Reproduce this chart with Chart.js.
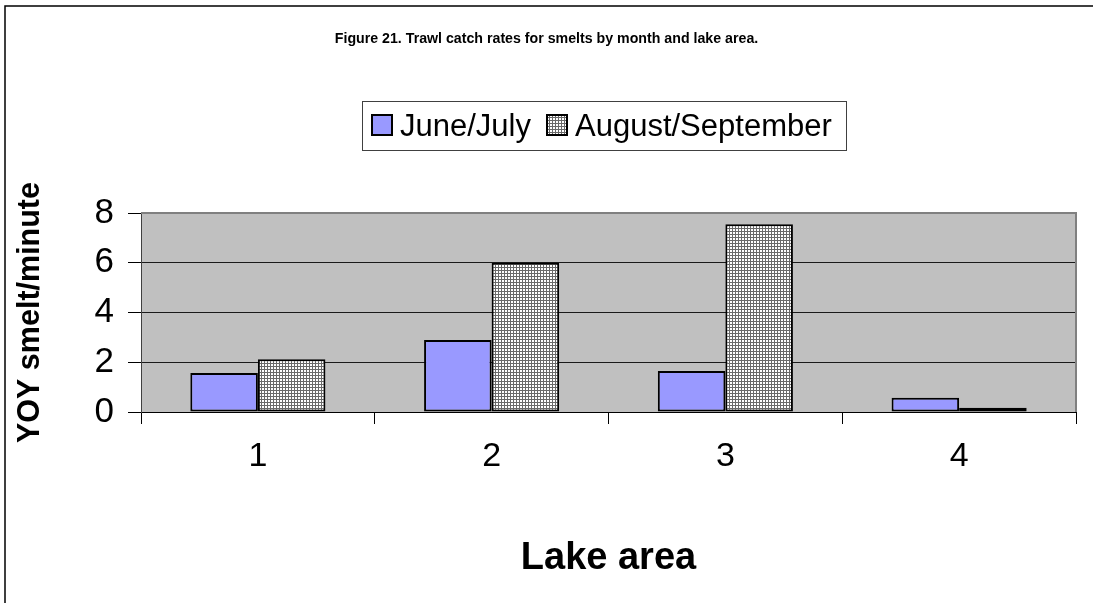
<!DOCTYPE html>
<html><head><meta charset="utf-8">
<script src="https://cdn.jsdelivr.net/npm/chart.js@4.4.1/dist/chart.umd.min.js"></script>
<style>html,body{margin:0;padding:0;background:#fff}#wrap{width:1093px;height:603px;position:relative}</style>
</head><body><div id="wrap"><canvas id="c" width="1093" height="603"></canvas></div>
<script>
const categories = ['1', '2', '3', '4'];
const juneJuly = [1.57, 2.9, 1.65, 0.57];
const augSep = [2.12, 6.0, 7.55, 0.17];
const seriesNames = ['June/July', 'August/September'];
const yTicks = [0, 2, 4, 6, 8];
const titleText = 'Figure 21. Trawl catch rates for smelts by month and lake area.';
const xTitle = 'Lake area';
const yTitle = 'YOY smelt/minute';

const FONT = "'Liberation Sans', Arial, sans-serif";
const canvas = document.getElementById('c');
const ctx0 = canvas.getContext('2d');

function makePattern() {
  const p = document.createElement('canvas');
  p.width = 3; p.height = 3;
  const g = p.getContext('2d');
  g.fillStyle = '#ffffff'; g.fillRect(0, 0, 3, 3);
  g.fillStyle = '#6a6a6a';
  g.fillRect(0, 0, 3, 1);
  g.fillRect(0, 0, 1, 3);
  return ctx0.createPattern(p, 'repeat');
}
const gridPattern = makePattern();
const blue = '#9999FF';

const framePlugin = {
  id: 'frame',
  beforeDraw(chart) {
    const c = chart.ctx, a = chart.chartArea;
    c.save();
    c.fillStyle = '#fff';
    c.fillRect(0, 0, chart.width, chart.height);
    c.fillStyle = '#C0C0C0';
    c.fillRect(a.left, a.top, a.right - a.left, a.bottom - a.top);
    c.strokeStyle = '#000';
    c.lineWidth = 1.5;
    c.strokeRect(5, 6, chart.width + 20, chart.height + 20);
    c.restore();
  },
  afterDatasetsDraw(chart) {
    const c = chart.ctx, a = chart.chartArea;
    c.save();
    c.strokeStyle = '#808080';
    c.lineWidth = 2;
    c.beginPath();
    c.moveTo(a.left, a.top);
    c.lineTo(a.right, a.top);
    c.lineTo(a.right, a.bottom);
    c.stroke();
    c.restore();
  },
  afterDraw(chart) {
    const c = chart.ctx;
    const bx = 362, by = 101, bw = 484, bh = 49;
    c.save();
    c.fillStyle = '#fff';
    c.fillRect(bx, by, bw, bh);
    c.strokeStyle = '#404040';
    c.lineWidth = 1;
    c.strokeRect(bx + 0.5, by + 0.5, bw, bh);
    const items = chart.data.datasets;
    const sx = [372, 547];
    c.font = '31px ' + FONT;
    c.textBaseline = 'middle';
    c.textAlign = 'left';
    items.forEach((ds, i) => {
      c.fillStyle = ds.backgroundColor;
      c.fillRect(sx[i], 115, 20, 20);
      c.strokeStyle = '#000';
      c.lineWidth = 2;
      c.strokeRect(sx[i], 115, 20, 20);
      c.fillStyle = '#000';
      c.fillText(ds.label, sx[i] + 28, 127);
    });
    c.restore();
  }
};

new Chart(canvas, {
  type: 'bar',
  data: {
    labels: categories,
    datasets: [
      { label: seriesNames[0], data: juneJuly, backgroundColor: blue, borderColor: '#000', borderWidth: 2, borderSkipped: false },
      { label: seriesNames[1], data: augSep, backgroundColor: gridPattern, borderColor: '#000', borderWidth: 2, borderSkipped: false }
    ]
  },
  options: {
    responsive: false,
    animation: false,
    devicePixelRatio: 1,
    layout: { padding: { left: 0, right: 0, top: 0, bottom: 0 } },
    datasets: { bar: { categoryPercentage: 0.578, barPercentage: 1.0 } },
    plugins: {
      legend: { display: false },
      tooltip: { enabled: false },
      title: {
        display: true,
        text: titleText,
        color: '#000',
        font: { family: FONT, size: 14.2, weight: 'bold' },
        padding: { top: 31, bottom: 165 }
      }
    },
    scales: {
      x: {
        grid: { display: true, offset: true, drawOnChartArea: false, drawTicks: true, tickLength: 12, color: '#000', tickColor: '#000' },
        border: { display: true, color: '#000', width: 1 },
        ticks: { color: '#000', font: { family: FONT, size: 34 }, padding: 12 },
        title: { display: true, text: xTitle, color: '#000', font: { family: FONT, size: 38, weight: 'bold' }, padding: { top: 0, bottom: 22 } },
        afterFit(s) { s.height = 191; }
      },
      y: {
        min: 0, max: 8,
        afterBuildTicks(s) { s.ticks = yTicks.map(v => ({ value: v })); },
        grid: {
          color: (c) => (c.tick && c.tick.value === 8) ? '#808080' : '#1a1a1a',
          tickColor: '#000', tickLength: 13, drawTicks: true
        },
        border: { display: true, color: '#404040', width: 1 },
        ticks: { color: '#000', font: { family: FONT, size: 35 }, padding: 14 },
        title: { display: true, text: yTitle, color: '#000', font: { family: FONT, size: 30.5, weight: 'bold' }, padding: { top: 12, bottom: 0 } },
        afterFit(s) { s.width = 141; }
      },
      yRight: {
        position: 'right',
        min: 0, max: 8,
        grid: { display: false },
        border: { display: false },
        ticks: { display: false },
        afterFit(s) { s.width = 17; }
      }
    }
  },
  plugins: [framePlugin]
});
</script>
</body></html>
